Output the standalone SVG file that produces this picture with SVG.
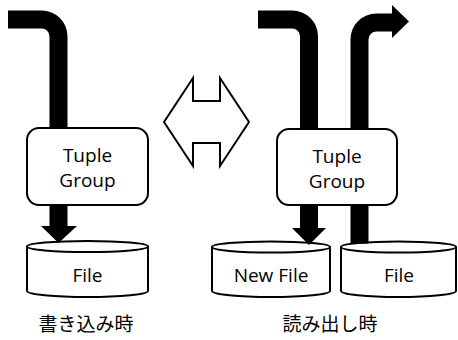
<svg xmlns="http://www.w3.org/2000/svg" width="458" height="340" viewBox="0 0 458 340">
<style>
.box{fill:#fff;stroke:#000;stroke-width:2}
.cyl{fill:#fff;stroke:#000;stroke-width:2}
.flow{fill:none;stroke:#000;stroke-width:18}
.head{fill:#000;stroke:none}
.lbl{font-family:"Open Sans","Noto Sans",sans-serif;font-size:19px;fill:#000;text-anchor:middle}
.cap{font-family:"Noto Sans CJK JP","Noto Sans",sans-serif;font-size:19px;fill:#000;text-anchor:middle}
</style>
<rect width="458" height="340" fill="#fff"/>
<g id="file-left">
<path class="cyl" d="M27,246.5 V291 A60.5,6 0 0 0 148,291 V246.5"/>
<ellipse class="cyl" cx="87.5" cy="246.5" rx="60.5" ry="5.5"/>
<text class="lbl" x="87.5" y="282">File</text>
</g>
<g id="newfile-right">
<path class="cyl" d="M212,247 V291 A59,6 0 0 0 330,291 V247"/>
<ellipse class="cyl" cx="271" cy="247" rx="59" ry="5.5"/>
<text class="lbl" x="271" y="282">New File</text>
</g>
<g id="file-right">
<path class="cyl" d="M341,247 V291 A57.5,6 0 0 0 456,291 V247"/>
<ellipse class="cyl" cx="398.5" cy="247" rx="57.5" ry="5.5"/>
<text class="lbl" x="399" y="282">File</text>
</g>
<g id="connectors">
<path class="flow" d="M8,19.5 H41.5 A17,17 0 0 1 58.5,36.5 V227"/>
<polygon class="head" points="41,226 77,226 58.5,243"/>
<path class="flow" d="M258,19.5 H292 A17,17 0 0 1 309,36.5 V229"/>
<polygon class="head" points="292,228 326,228 309,245"/>
<path class="flow" d="M359.5,243.5 V39.5 A17,17 0 0 1 376.5,22.5 H393"/>
<polygon class="head" points="392,5 392,38 409,21.5"/>
</g>
<g id="tuple-group-left">
<rect class="box" x="27" y="128" width="121" height="77" rx="12"/>
<text class="lbl" x="87.5" y="162">Tuple</text>
<text class="lbl" x="87.5" y="187">Group</text>
</g>
<g id="tuple-group-right">
<rect class="box" x="277" y="129" width="120" height="76" rx="12"/>
<text class="lbl" x="337" y="163">Tuple</text>
<text class="lbl" x="337" y="188">Group</text>
</g>
<g id="double-arrow">
<polygon class="box" points="164,122 193,78 193,101 220,101 220,78 249,122 220,166 220,143 193,143 193,166"/>
</g>
<g id="captions">
<text class="cap" x="86" y="331">書き込み時</text>
<text class="cap" x="330" y="331">読み出し時</text>
</g>
</svg>
